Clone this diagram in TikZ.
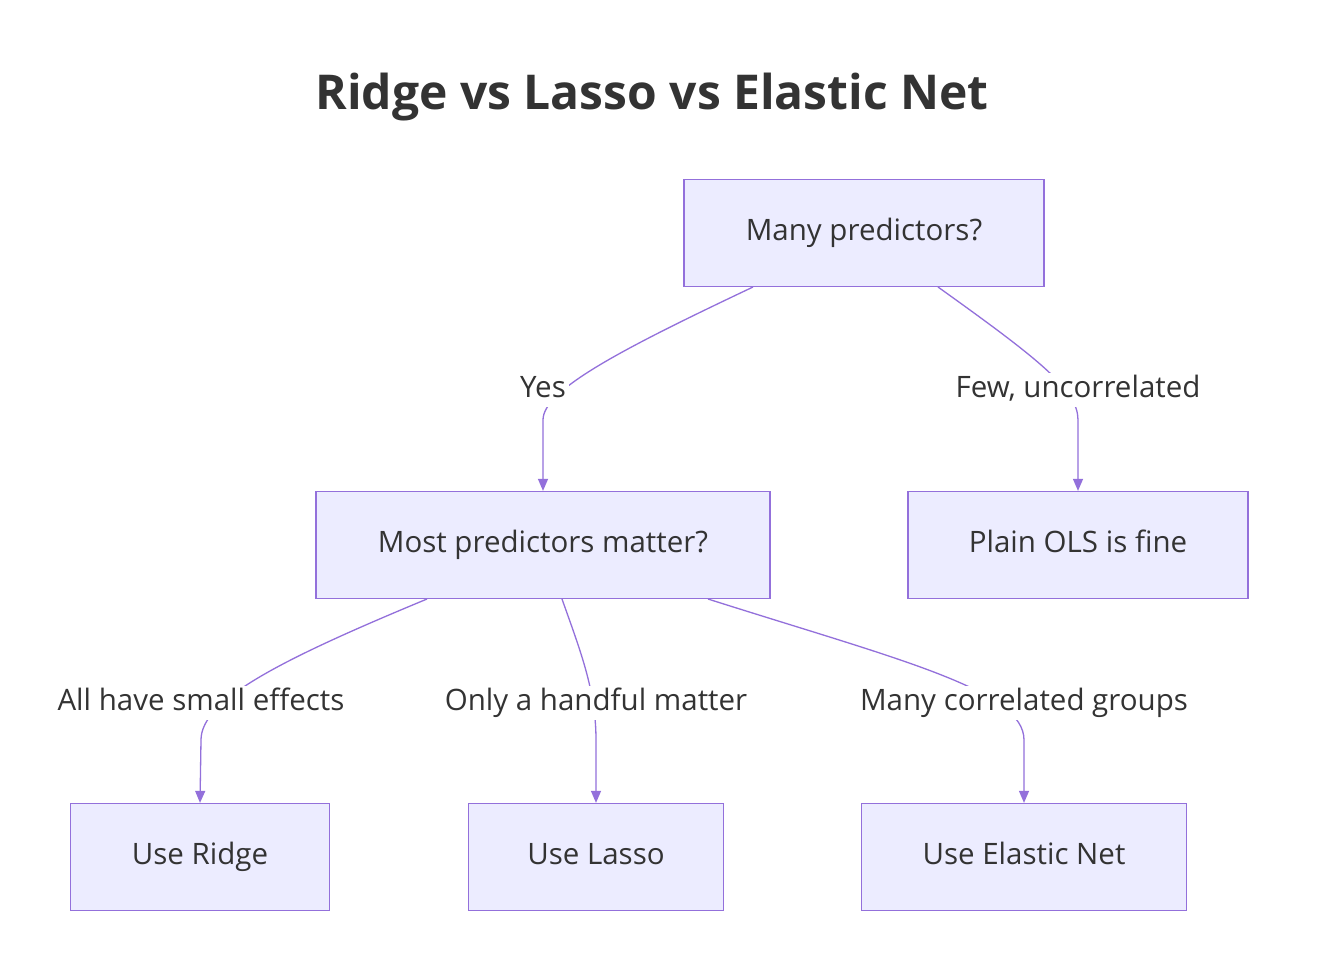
\documentclass[tikz,border=0pt]{standalone}
\usepackage{fontspec}
\setmainfont{Open Sans}
\usetikzlibrary{arrows.meta}
\definecolor{boxfill}{HTML}{ECECFF}
\definecolor{boxline}{HTML}{9370DB}
\definecolor{txt}{HTML}{333333}
\begin{document}
\begin{tikzpicture}[x=1pt,y=-1pt,
  box/.style={draw=boxline,fill=boxfill,line width=1.3pt,text=txt,font=\fontsize{29.5}{34}\selectfont,inner sep=0,text height=21pt,text depth=7pt},
  lab/.style={fill=white,text=txt,font=\fontsize{29.5}{34}\selectfont,inner sep=3pt,text height=21pt,text depth=7pt},
  edge/.style={draw=boxline,line width=1.3pt,-{Triangle[length=12pt,width=10pt]}}]
\fill[white] (0,0) rectangle (1320,978);
\node[text=txt,font=\fontsize{48}{54}\selectfont\bfseries] (title) at (652,97) {Ridge vs Lasso vs Elastic Net};
\node[box,minimum width=360,minimum height=107] (A) at (864,233) {Many predictors?};
\node[box,minimum width=454,minimum height=107] (B) at (543,545) {Most predictors matter?};
\node[box,minimum width=340,minimum height=107] (C) at (1078,545) {Plain OLS is fine};
\node[box,minimum width=259,minimum height=107] (D) at (200,857) {Use Ridge};
\node[box,minimum width=255,minimum height=107] (E) at (596,857) {Use Lasso};
\node[box,minimum width=325,minimum height=107] (F) at (1024,857) {Use Elastic Net};
\coordinate (a1) at (753,287); \coordinate (a2) at (938,287);
\coordinate (b1) at (427,599); \coordinate (b2) at (562,599); \coordinate (b3) at (708,599);
\draw[edge] (a1) .. controls (620,350) and (543,390) .. (543,420) -- (B.north);
\draw[edge] (a2) .. controls (1040,360) and (1078,390) .. (1078,420) -- (C.north);
\draw[edge] (b1) .. controls (280,660) and (201,700) .. (201,740) -- (D.north);
\draw[edge] (b2) .. controls (580,650) and (596,690) .. (596,740) -- (E.north);
\draw[edge] (b3) .. controls (900,660) and (1024,690) .. (1024,740) -- (F.north);
\node[lab] (l1) at (543,390) {Yes};
\node[lab] (l2) at (1078,390) {Few, uncorrelated};
\node[lab] (l3) at (201,703) {All have small effects};
\node[lab] (l4) at (596,703) {Only a handful matter};
\node[lab] (l5) at (1024,703) {Many correlated groups};
\end{tikzpicture}
\end{document}
